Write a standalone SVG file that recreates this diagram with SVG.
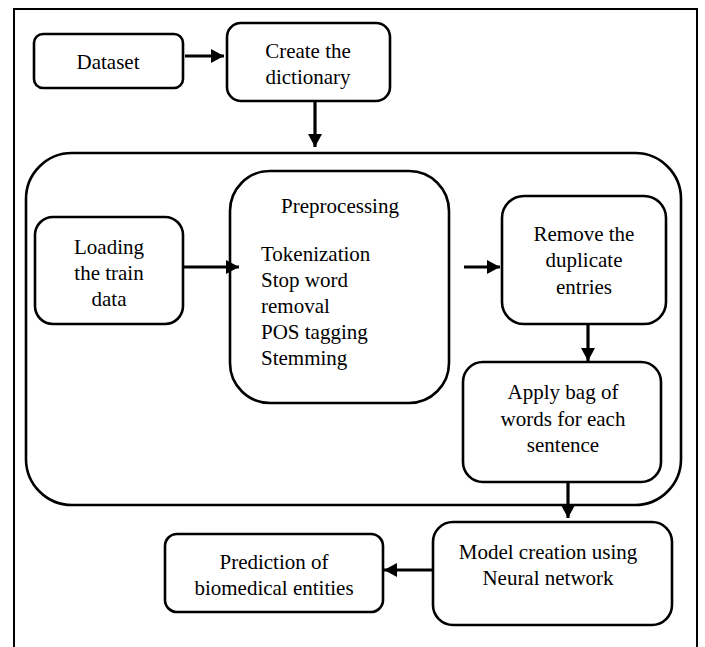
<svg xmlns="http://www.w3.org/2000/svg" width="705" height="647" viewBox="0 0 705 647">
<style>
.box{fill:#fff;stroke:#000;stroke-width:2.6}
.conn{stroke:#000;stroke-width:3.2;fill:none}
</style>
<defs>
<marker id="ah" markerUnits="userSpaceOnUse" markerWidth="14" markerHeight="14" refX="13" refY="7" orient="auto">
<path d="M0,0 L13,7 L0,14 z" fill="#000"/>
</marker>
</defs>
<rect width="705" height="647" fill="#fff"/>
<path d="M14,647 L14,9 L697,9 L697,647" fill="none" stroke="#000" stroke-width="2"/>
<g id="container"><rect x="26" y="153" width="655" height="352" rx="46" class="box"/></g>
<g id="dataset"><rect x="34" y="34" width="149" height="54" rx="9" class="box"/>
<text x="108" y="69" font-family="Liberation Serif" font-size="21" text-anchor="middle">Dataset</text></g>
<g id="dictionary"><rect x="227" y="23" width="163" height="78" rx="14" class="box"/>
<text x="308" y="58" font-family="Liberation Serif" font-size="21" text-anchor="middle">Create the</text>
<text x="308" y="84" font-family="Liberation Serif" font-size="21" text-anchor="middle">dictionary</text></g>
<g id="loading"><rect x="35" y="217" width="148" height="107" rx="18" class="box"/>
<text x="109" y="254" font-family="Liberation Serif" font-size="21" text-anchor="middle">Loading</text>
<text x="109" y="280" font-family="Liberation Serif" font-size="21" text-anchor="middle">the train</text>
<text x="109" y="306" font-family="Liberation Serif" font-size="21" text-anchor="middle">data</text></g>
<g id="preprocessing"><rect x="230" y="171" width="219" height="232" rx="40" class="box"/>
<text x="340" y="213" font-family="Liberation Serif" font-size="21" text-anchor="middle">Preprocessing</text>
<text x="261" y="261" font-family="Liberation Serif" font-size="21">Tokenization</text>
<text x="261" y="287" font-family="Liberation Serif" font-size="21">Stop word</text>
<text x="261" y="313" font-family="Liberation Serif" font-size="21">removal</text>
<text x="261" y="339" font-family="Liberation Serif" font-size="21">POS tagging</text>
<text x="261" y="365" font-family="Liberation Serif" font-size="21">Stemming</text></g>
<g id="remove"><rect x="502" y="196" width="164" height="128" rx="22" class="box"/>
<text x="584" y="241" font-family="Liberation Serif" font-size="21" text-anchor="middle">Remove the</text>
<text x="584" y="267" font-family="Liberation Serif" font-size="21" text-anchor="middle">duplicate</text>
<text x="584" y="294" font-family="Liberation Serif" font-size="21" text-anchor="middle">entries</text></g>
<g id="bagofwords"><rect x="463" y="362" width="198" height="120" rx="20" class="box"/>
<text x="563" y="399" font-family="Liberation Serif" font-size="21" text-anchor="middle">Apply bag of</text>
<text x="563" y="426" font-family="Liberation Serif" font-size="21" text-anchor="middle">words for each</text>
<text x="563" y="452" font-family="Liberation Serif" font-size="21" text-anchor="middle">sentence</text></g>
<g id="model"><rect x="433" y="522" width="239" height="103" rx="20" class="box"/>
<text x="548" y="559" font-family="Liberation Serif" font-size="21" text-anchor="middle">Model creation using</text>
<text x="548" y="585" font-family="Liberation Serif" font-size="21" text-anchor="middle">Neural network</text></g>
<g id="prediction"><rect x="165" y="534" width="218" height="78" rx="12" class="box"/>
<text x="274" y="569" font-family="Liberation Serif" font-size="21" text-anchor="middle">Prediction of</text>
<text x="274" y="595" font-family="Liberation Serif" font-size="21" text-anchor="middle">biomedical entities</text></g>
<g id="connectors">
<line x1="185" y1="56" x2="224" y2="56" class="conn" marker-end="url(#ah)"/>
<line x1="315" y1="102" x2="315" y2="147" class="conn" marker-end="url(#ah)"/>
<line x1="184" y1="267" x2="239" y2="267" class="conn" marker-end="url(#ah)"/>
<line x1="464" y1="267" x2="500" y2="267" class="conn" marker-end="url(#ah)"/>
<line x1="588" y1="325" x2="588" y2="361" class="conn" marker-end="url(#ah)"/>
<line x1="568" y1="483" x2="568" y2="518" class="conn" marker-end="url(#ah)"/>
<line x1="432" y1="570" x2="384" y2="570" class="conn" marker-end="url(#ah)"/>
</g>
</svg>
